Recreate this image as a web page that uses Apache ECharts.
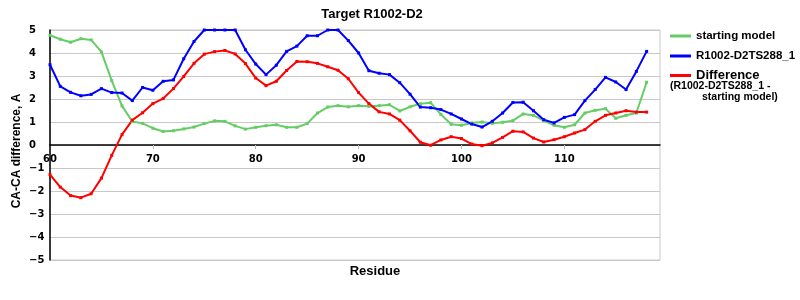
<!DOCTYPE html>
<html>
<head>
<meta charset="utf-8">
<script src="https://cdn.jsdelivr.net/npm/echarts@6/dist/echarts.min.js"></script>
<style>html,body{margin:0;padding:0;background:#fff;}#c{width:800px;height:300px;}</style>
</head>
<body>
<div id="c"></div>
<script>
var residues = [];
for (var r = 60; r <= 118; r++) residues.push(r);

var startingModel = [4.77,4.6,4.47,4.62,4.57,4.05,2.8,1.7,1.02,0.94,
  0.73,0.59,0.62,0.7,0.78,0.93,1.05,1.03,0.83,0.69,
  0.77,0.84,0.88,0.77,0.77,0.93,1.39,1.65,1.71,1.66,
  1.71,1.68,1.71,1.75,1.48,1.66,1.79,1.84,1.33,0.9,
  0.86,0.96,1.0,0.94,0.99,1.06,1.35,1.29,1.06,0.86,
  0.77,0.88,1.39,1.51,1.58,1.16,1.29,1.39,2.73];

var modelTS288 = [3.49,2.55,2.29,2.14,2.2,2.45,2.28,2.26,1.93,2.5,
  2.38,2.77,2.83,3.75,4.5,5.0,5.0,5.0,5.0,4.14,
  3.52,3.06,3.47,4.07,4.3,4.75,4.75,5.0,5.0,4.54,
  4.0,3.23,3.12,3.06,2.71,2.21,1.65,1.62,1.54,1.35,
  1.13,0.91,0.78,1.03,1.39,1.85,1.86,1.49,1.1,0.96,
  1.2,1.32,1.93,2.41,2.94,2.74,2.41,3.2,4.07];

var difference = [-1.29,-1.83,-2.2,-2.29,-2.12,-1.44,-0.45,0.45,1.08,1.4,
  1.8,2.02,2.45,2.98,3.55,3.95,4.06,4.11,3.96,3.54,
  2.91,2.58,2.77,3.24,3.63,3.62,3.55,3.4,3.25,2.88,
  2.28,1.8,1.44,1.35,1.08,0.62,0.12,-0.01,0.22,0.36,
  0.28,0.04,-0.03,0.09,0.33,0.6,0.57,0.3,0.13,0.23,
  0.36,0.52,0.67,1.03,1.29,1.39,1.49,1.43,1.43];

var xTickLabels = [60,70,80,90,100,110];
var yTickLabels = [-5,-4,-3,-2,-1,0,1,2,3,4,5];
var seriesNames = ['starting model','R1002-D2TS288_1','Difference'];
var colors = ['#66cc66','#0000ff','#ff0000'];

function pairs(vals){ return residues.map(function(x,i){ return [x, vals[i]]; }); }
var allVals = [startingModel, modelTS288, difference];

var chart = echarts.init(document.getElementById('c'), null, {renderer:'canvas'});
var bold = 'Liberation Sans, Arial, sans-serif';
chart.setOption({
  animation: false,
  backgroundColor: '#fff',
  grid: {left: 50, right: 140, top: 30, bottom: 40, show: true, borderColor: '#c8c8c8', borderWidth: 1,
    containLabel: false, outerBoundsMode: 'none'},
  xAxis: {
    type: 'value', min: 60, max: 119.3, interval: 10,
    offset: -115,
    axisLine: {onZero: false, lineStyle: {color: '#000', width: 1.5}},
    axisTick: {show: true, length: 4, inside: false, customValues: [70,80,90,100,110], lineStyle: {color: '#bbb'}},
    axisLabel: {customValues: xTickLabels, margin: 9, fontFamily: 'DejaVu Sans', fontWeight: 'bold', fontSize: 10, color: '#000'},
    splitLine: {show: false}
  },
  yAxis: {
    type: 'value', min: -5, max: 5, interval: 1,
    axisLine: {show: true, lineStyle: {color: '#000', width: 1.5}},
    axisTick: {show: false},
    axisLabel: {align: 'left', margin: 21, fontFamily: 'DejaVu Sans', fontWeight: 'bold', fontSize: 10, color: '#000',
      formatter: function(v){ return String(v).replace('-', '\u2212'); }},
    splitLine: {lineStyle: {color: '#c8c8c8', width: 1}}
  },
  legend: {
    orient: 'vertical', left: 665, top: 24, itemWidth: 21, itemHeight: 3, itemGap: 6,
    icon: 'rect',
    textStyle: {fontFamily: bold, fontWeight: 'bold', fontSize: 11.5, color: '#000', lineHeight: 14},
    data: [
      {name: seriesNames[0]},
      {name: seriesNames[1]},
      {name: seriesNames[2], textStyle: {fontSize: 13, lineHeight: 13}}
    ]
  },
  graphic: [
    {type: 'text', x: 372, y: 14, style: {text: 'Target R1002-D2', font: 'bold 13px ' + bold, fill: '#000', align: 'center', verticalAlign: 'middle'}},
    {type: 'text', x: 375, y: 271, style: {text: 'Residue', font: 'bold 13px ' + bold, fill: '#000', align: 'center', verticalAlign: 'middle'}},
    {type: 'text', x: 17, y: 151, rotation: Math.PI / 2, style: {text: 'CA-CA difference, A', font: 'bold 12px ' + bold, fill: '#000', align: 'center', verticalAlign: 'middle'}},
    {type: 'text', x: 670, y: 86, style: {text: '(R1002-D2TS288_1 -', font: 'bold 10.5px ' + bold, fill: '#000', align: 'left', verticalAlign: 'middle'}},
    {type: 'text', x: 702, y: 97, style: {text: 'starting model)', font: 'bold 10.5px ' + bold, fill: '#000', align: 'left', verticalAlign: 'middle'}}
  ],
  series: seriesNames.map(function(n, i){
    return {
      name: n, type: 'line', data: pairs(allVals[i]),
      symbol: 'rect', symbolSize: 3, showSymbol: true,
      lineStyle: {color: colors[i], width: 2},
      itemStyle: {color: colors[i]},
      emphasis: {disabled: true}
    };
  })
});
</script>
</body>
</html>
